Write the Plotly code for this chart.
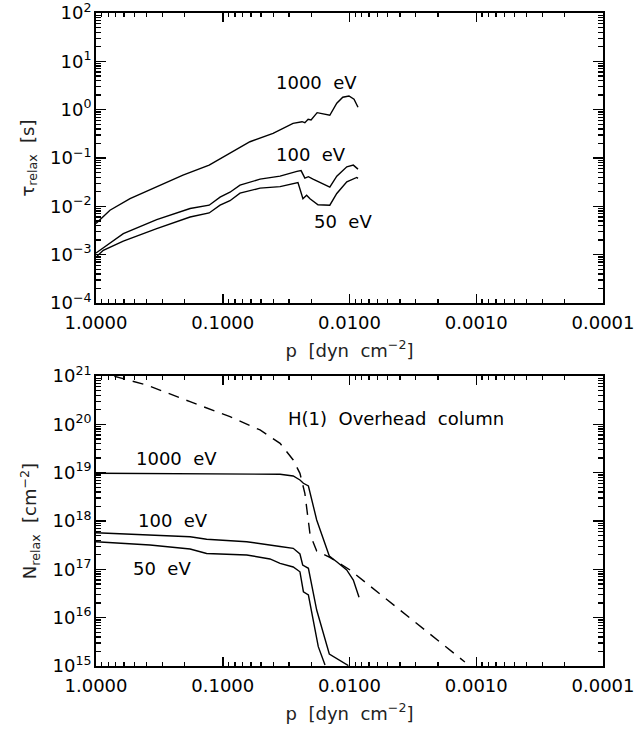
import plotly.graph_objects as go

# ---------------- Data ----------------
# Top panel: relaxation time tau_relax [s] vs pressure p [dyn cm^-2]
p_tau_1000 = [1.0, 0.776, 0.539, 0.330, 0.206, 0.128, 0.0877, 0.0610, 0.0401, 0.0279,
              0.0237, 0.0225, 0.0212, 0.0201, 0.0180, 0.0143, 0.0126, 0.0113, 0.0101,
              0.00921, 0.00857]
tau_1000 = [4.4e-3, 8.3e-3, 0.0145, 0.0252, 0.0442, 0.0713, 0.128, 0.217, 0.324, 0.522,
            0.564, 0.537, 0.632, 0.611, 0.867, 0.765, 1.36, 1.81, 1.92, 1.64, 1.12]

p_tau_100 = [1.0, 0.609, 0.332, 0.181, 0.128, 0.105, 0.0877, 0.0731, 0.0508, 0.0353,
             0.0260, 0.0241, 0.0225, 0.0211, 0.0194, 0.0143, 0.0126, 0.0105, 0.00933, 0.00857]
tau_100 = [1.08e-3, 2.73e-3, 5.33e-3, 9.0e-3, 0.01055, 0.01545, 0.0196, 0.0274, 0.0365,
           0.0421, 0.0530, 0.0548, 0.0383, 0.0411, 0.0365, 0.0249, 0.0421, 0.0656, 0.0713,
           0.0589]

p_tau_50 = [1.0, 0.876, 0.609, 0.332, 0.181, 0.128, 0.105, 0.0877, 0.0731, 0.0508, 0.0353,
            0.0255, 0.0233, 0.0218, 0.0205, 0.01773, 0.0143, 0.0126, 0.0105, 0.00877, 0.00857]
tau_50 = [8.9e-4, 1.23e-3, 1.91e-3, 3.46e-3, 6.02e-3, 7.29e-3, 0.01055, 0.01306, 0.0187,
          0.0238, 0.0255, 0.0309, 0.01439, 0.0170, 0.01439, 0.0108, 0.01055, 0.01845, 0.0321,
          0.0396, 0.0378]

# Bottom panel: relaxation column N_relax [cm^-2] vs pressure
p_N_1000 = [1.0, 0.151, 0.0353, 0.0278, 0.0246, 0.0231, 0.0211, 0.01815, 0.01443, 0.01262,
            0.01052, 0.00933, 0.00841]
N_1000 = [9.7e18, 9.5e18, 9.25e18, 8.53e18, 7.05e18, 6.03e18, 5.30e18, 1.05e18, 1.89e17,
          1.44e17, 9.7e16, 6.0e16, 2.64e16]

p_N_100 = [1.0, 0.181, 0.134, 0.0647, 0.0353, 0.0278, 0.0246, 0.0234, 0.0211, 0.01815,
           0.01443, 0.01021]
N_100 = [5.73e17, 4.73e17, 4.18e17, 3.73e17, 2.97e17, 2.72e17, 2.08e17, 1.23e17, 1.05e17,
         1.44e16, 1.77e15, 1.02e15]

p_N_50 = [1.0, 0.375, 0.181, 0.134, 0.0647, 0.0424, 0.0353, 0.0278, 0.0246, 0.0231, 0.0211,
          0.0193, 0.01763, 0.0156]
N_50 = [3.73e17, 3.18e17, 2.64e17, 2.13e17, 1.98e17, 1.64e17, 1.33e17, 1.12e17, 8.9e16,
        3.44e16, 2.94e16, 8.96e15, 2.51e15, 1.05e15]

p_H1 = [1.0, 0.708, 0.398, 0.181, 0.0877, 0.0508, 0.0353, 0.0278, 0.0246, 0.0225, 0.0205,
        0.01815, 0.0143, 0.00991, 0.00451, 0.00123]
N_H1 = [1.25e21, 9.7e20, 6.52e20, 2.94e20, 1.44e20, 7.64e19, 4.05e19, 1.83e19, 9.7e18,
        3.74e18, 5.38e17, 2.39e17, 1.77e17, 9.7e16, 1.83e16, 1.21e15]

# Tick label formats / texts
x_tickformat = ".4f"            # gives 1.0000, 0.1000, 0.0100, 0.0010, 0.0001
y_label_alias = {"1": "10<sup>0</sup>", "10": "10<sup>1</sup>"}

# ---------------- Figure ----------------
FONT = "DejaVu Sans"
LW = 1.4
TF = 18
fig = go.Figure()

for px, vy in [(p_tau_1000, tau_1000), (p_tau_100, tau_100), (p_tau_50, tau_50)]:
    fig.add_trace(go.Scatter(x=px, y=vy, mode="lines", xaxis="x", yaxis="y",
                             line=dict(color="black", width=LW), showlegend=False))

for px, vy in [(p_N_1000, N_1000), (p_N_100, N_100), (p_N_50, N_50)]:
    fig.add_trace(go.Scatter(x=px, y=vy, mode="lines", xaxis="x2", yaxis="y2",
                             line=dict(color="black", width=LW), showlegend=False))

fig.add_trace(go.Scatter(x=p_H1, y=N_H1, mode="lines", xaxis="x2", yaxis="y2",
                         line=dict(color="black", width=LW, dash="11px,8px"),
                         showlegend=False))

minor_common = dict(ticks="inside", tickwidth=1.3, tickcolor="black",
                    dtick="D1", showgrid=False)

common_x = dict(type="log", range=[0, -4], autorange=False, automargin=False,
                tickmode="linear", tick0=0, dtick=1, tickformat=x_tickformat,
                ticks="inside", ticklen=9, tickwidth=1.5, tickcolor="black",
                minor=dict(ticklen=4, **minor_common),
                showline=True, linecolor="black", linewidth=1.6, mirror="ticks",
                showgrid=False, zeroline=False, ticklabeloverflow="allow",
                ticklabelstandoff=3,
                tickfont=dict(family=FONT, size=TF, color="black"),
                title=dict(text="p  [dyn  cm<sup>\u22122</sup>]",
                           font=dict(family=FONT, size=18, color="#222"), standoff=12))
common_y = dict(type="log", autorange=False, automargin=False,
                tickmode="linear", tick0=0, dtick=1, exponentformat="power",
                labelalias=y_label_alias,
                ticks="inside", ticklen=10, tickwidth=1.5, tickcolor="black",
                minor=dict(ticklen=5, **minor_common),
                showline=True, linecolor="black", linewidth=1.6, mirror="ticks",
                showgrid=False, zeroline=False, ticklabeloverflow="allow",
                tickfont=dict(family=FONT, size=TF / 1.25, color="black"))

fig.update_layout(
    template="none",
    width=636, height=733,
    margin=dict(l=96, r=33, t=13, b=67),
    paper_bgcolor="white", plot_bgcolor="white",
    font=dict(family=FONT, size=18, color="black"),
    xaxis=dict(domain=[0, 1], anchor="y", **common_x),
    yaxis=dict(domain=[0.5559, 1], anchor="x", range=[-4, 2],
               title=dict(text="\u03c4<sub>relax</sub>  [s]",
                          font=dict(family=FONT, size=18, color="#222"), standoff=11),
               **common_y),
    xaxis2=dict(domain=[0, 1], anchor="y2", **common_x),
    yaxis2=dict(domain=[0, 0.4441], anchor="x2", range=[15, 21],
                title=dict(text="N<sub>relax</sub>  [cm<sup>\u22122</sup>]",
                           font=dict(family=FONT, size=18, color="#222"), standoff=11),
                **common_y),
)

ann = [
    ("x", "y", -1.736, 0.554, "1000\u00a0 eV"),
    ("x", "y", -1.696, -0.919, "100\u00a0 eV"),
    ("x", "y", -1.949, -2.309, "50\u00a0 eV"),
    ("x2", "y2", -2.367, 20.131, "H(1)\u00a0 Overhead\u00a0 column"),
    ("x2", "y2", -0.639, 19.303, "1000\u00a0 eV"),
    ("x2", "y2", -0.607, 18.020, "100\u00a0 eV"),
    ("x2", "y2", -0.521, 17.027, "50\u00a0 eV"),
]
for xr, yr, xv, yv, t in ann:
    fig.add_annotation(xref=xr, yref=yr, x=xv, y=yv, text=t, showarrow=False,
                       font=dict(family=FONT, size=18, color="black"),
                       xanchor="center", yanchor="middle")

# Remove the browser's default 8 px body margin so the figure fills the window.
fig.write_html("out.html",
               config={"displayModeBar": False, "staticPlot": True},
               post_script="document.body.style.margin='0';"
                           "document.body.style.overflow='hidden';")
